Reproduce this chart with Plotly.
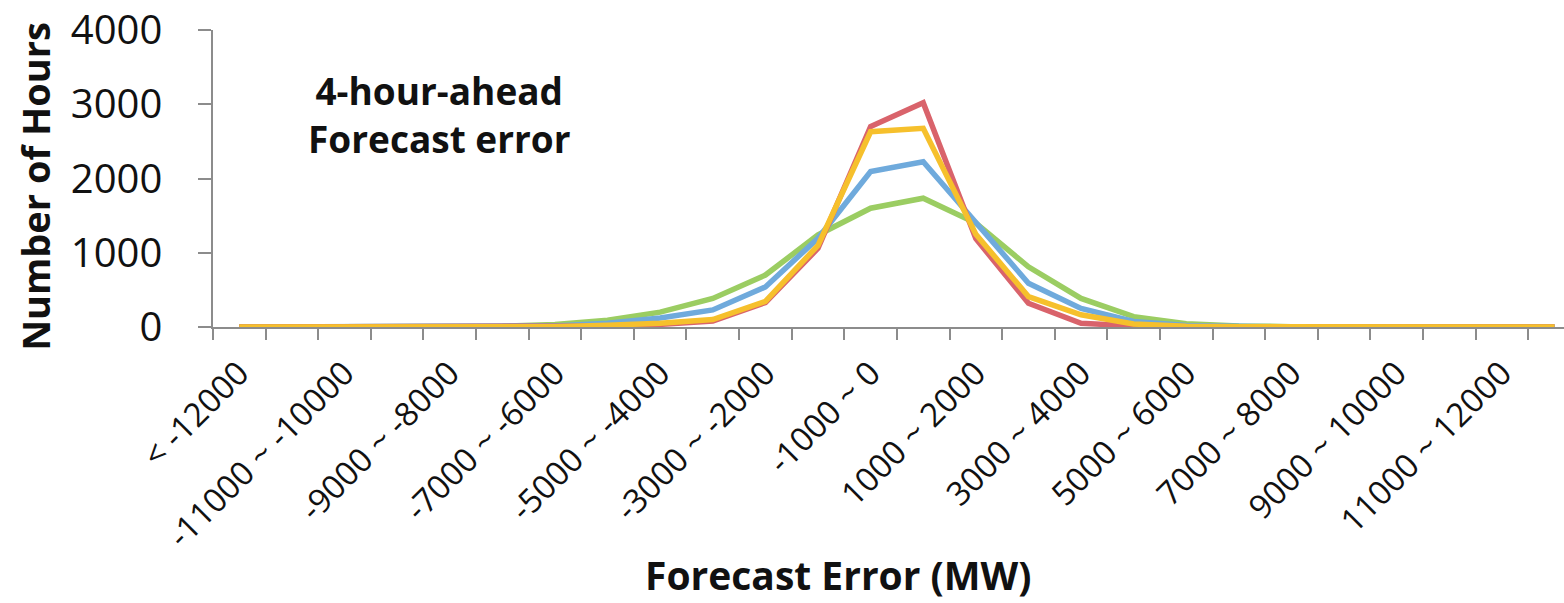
import plotly.graph_objects as go

categories = ["< -12000"] + [f"{a} ~ {a + 1000}" for a in range(-12000, 12000, 1000)] + ["> 12000"]
tick_text = [c if i % 2 == 0 else "" for i, c in enumerate(categories)]

green_vals = [0, 0, 0, 0, 0, 10, 35, 90, 200, 385, 700, 1240, 1600, 1735, 1400, 810, 385, 140, 45, 15, 5, 0, 0, 0, 0, 0]
blue_vals = [0, 0, 0, 0, 0, 3, 15, 50, 120, 230, 540, 1195, 2095, 2225, 1420, 590, 250, 75, 20, 5, 0, 0, 0, 0, 0, 0]
red_vals = [0, 0, 0, 0, 0, 0, 3, 15, 35, 80, 330, 1060, 2700, 3020, 1190, 320, 50, 15, 5, 0, 0, 0, 0, 0, 0, 0]
orange_vals = [0, 0, 0, 0, 0, 0, 5, 25, 50, 100, 345, 1100, 2630, 2675, 1250, 410, 165, 40, 10, 3, 0, 0, 0, 0, 0, 0]

series = [
    ("Series A", green_vals, "#9BCD62"),
    ("Series B", blue_vals, "#6FAADC"),
    ("Series C", red_vals, "#D9636B"),
    ("Series D", orange_vals, "#F6C02C"),
]

fig = go.Figure()
for name, vals, color in series:
    fig.add_trace(go.Scatter(x=categories, y=vals, mode="lines", name=name,
                             line=dict(color=color, width=5.5), showlegend=False))

FONT = "Open Sans"
fig.update_layout(
    width=1564, height=603,
    margin=dict(l=213, r=0, t=30, b=276),
    paper_bgcolor="white", plot_bgcolor="white",
    font=dict(family=FONT, color="#111"),
    xaxis=dict(
        type="category",
        categoryorder="array", categoryarray=categories,
        range=[-0.5, 25.18],
        tickmode="array", tickvals=categories, ticktext=tick_text,
        tickson="boundaries",
        ticks="outside", ticklen=11, tickwidth=1.5, tickcolor="#8c8c8c",
        tickangle=-45, tickfont=dict(size=33, family=FONT, color="#111"),
        ticklabelstandoff=12,
        showline=True, linecolor="#8c8c8c", linewidth=1.5,
        showgrid=False, zeroline=False,
    ),
    yaxis=dict(
        range=[0, 4000], tickvals=[0, 1000, 2000, 3000, 4000],
        ticks="outside", ticklen=13, tickwidth=1.5, tickcolor="#8c8c8c",
        tickfont=dict(size=40, family=FONT, color="#111"),
        ticklabelstandoff=28,
        showline=True, linecolor="#8c8c8c", linewidth=1.5,
        showgrid=False, zeroline=False,
    ),
    annotations=[
        dict(text="<b>Forecast Error (MW)</b>", xref="paper", yref="paper",
             x=0.463, y=-0.835, xanchor="center", yanchor="middle",
             showarrow=False, font=dict(size=39, family=FONT, color="#111")),
        dict(text="<b>Number of Hours</b>", xref="paper", yref="paper",
             x=-0.1318, y=0.475, xanchor="center", yanchor="middle", textangle=-90,
             showarrow=False, font=dict(size=38, family=FONT, color="#111")),
        dict(text="<b>4-hour-ahead<br>Forecast error</b>", xref="paper", yref="paper",
             x=0.168, y=0.714, xanchor="center", yanchor="middle", align="center",
             showarrow=False, font=dict(size=37, family=FONT, color="#111")),
    ],
)

fig.write_html("out.html")
